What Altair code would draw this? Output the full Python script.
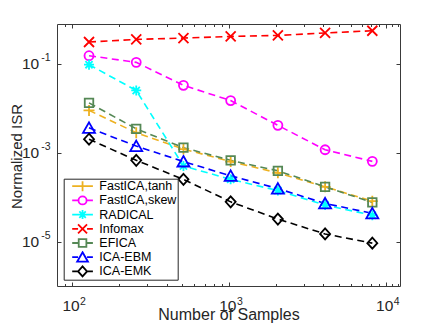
import altair as alt
import pandas as pd

# ---------------- data ----------------
samples = [128, 256, 512, 1024, 2048, 4096, 8192]
series_names = ["FastICA,tanh", "FastICA,skew", "RADICAL", "Infomax", "EFICA", "ICA-EBM", "ICA-EMK"]
fastica_tanh = [0.0089, 0.0028, 0.0012, 0.00063, 0.00035, 0.00017, 0.000081]
fastica_skew = [0.151, 0.107, 0.0326, 0.0148, 0.0041, 0.00116, 0.000635]
radical = [0.095, 0.025, 0.00050, 0.00025, 0.00014, 0.000066, 0.000039]
infomax = [0.307, 0.351, 0.377, 0.409, 0.432, 0.49, 0.55]
efica = [0.0131, 0.00343, 0.00129, 0.00067, 0.00039, 0.00017, 0.000076]
ica_ebm = [0.0036, 0.0014, 0.00063, 0.0003, 0.000155, 0.000072, 0.000043]
ica_emk = [0.002, 0.00067, 0.00025, 0.000078, 0.000032, 0.0000148, 0.0000092]

x_major = [100, 1000, 10000]
x_minor = [90, 200, 300, 400, 500, 600, 700, 800, 900,
           2000, 3000, 4000, 5000, 6000, 7000, 8000, 9000, 11000, 12000]
y_major = [1e-5, 1e-3, 1e-1]

colors = ["#EDB120", "#FF00FF", "#00FFFF", "#FF0000", "#558855", "#0000FF", "#000000"]

marker_paths = [
    "M-1.1,0L1.1,0M0,-1.1L0,1.1",
    "M0.9,0A0.9,0.9 0 1,1 -0.9,0A0.9,0.9 0 1,1 0.9,0Z",
    "M-1,0L1,0M0,-1L0,1M-0.72,-0.72L0.72,0.72M-0.72,0.72L0.72,-0.72",
    "M-1,-1L1,1M-1,1L1,-1",
    "M-0.85,-0.85L0.85,-0.85L0.85,0.85L-0.85,0.85Z",
    "M0,-1.1L1.2,1L-1.2,1Z",
    "M0,-1.1L1,0L0,1.1L-1,0Z",
]
seg = "M-2.3,0L-1,0M1,0L2.3,0"
legend_paths = [seg + p for p in marker_paths]

rows = []
for name, vals in zip(series_names, [fastica_tanh, fastica_skew, radical, infomax,
                                     efica, ica_ebm, ica_emk]):
    for n, v in zip(samples, vals):
        rows.append({"series": name, "samples": n, "isr": v})
df = pd.DataFrame(rows)

FONT = "Liberation Sans"
TXT = "#262626"
FRAME = "#3a3a3a"

x_scale = alt.Scale(type="log", domain=[80, 12300], nice=False)
y_scale = alt.Scale(type="log", domain=[1e-6, 0.78], nice=False)


def tick_axis(orient, values, size):
    return alt.Axis(orient=orient, values=values, labels=False, domain=False, ticks=True,
                    tickSize=size, offset=-size, tickColor=FRAME, tickWidth=1,
                    grid=False, title=None)


def frame_axis(orient):
    return alt.Axis(orient=orient, values=[], labels=False, ticks=False, tickSize=0,
                    domain=True, domainColor=FRAME, domainWidth=1, grid=False, title=None)


ax_x_main = alt.Axis(orient="bottom", values=x_major, labelExpr="'10'", ticks=False, tickSize=0,
                     domain=True, domainColor=FRAME, domainWidth=1, grid=False,
                     labelFont=FONT, labelFontSize=15.5, labelColor=TXT, labelPadding=12,
                     labelOffset=-1.7, labelAlign="center", labelBaseline="top",
                     labelFlush=False, labelOverlap=False,
                     title="Number of Samples", titleFont=FONT, titleFontSize=16,
                     titleFontWeight="normal", titleColor=TXT, titleBaseline="alphabetic",
                     titleY=33.5)
ax_x_exp = alt.Axis(orient="bottom", values=x_major,
                    labelExpr="'' + round(log(datum.value)/LN10)", ticks=False, tickSize=0,
                    domain=False, grid=False, labelFont=FONT, labelFontSize=10.5,
                    labelColor=TXT, labelPadding=10, labelOffset=10.3, labelAlign="center",
                    labelBaseline="top", labelFlush=False, labelOverlap=False, title=None)
ax_y_main = alt.Axis(orient="left", values=y_major, labelExpr="'10'", ticks=False, tickSize=0,
                     domain=True, domainColor=FRAME, domainWidth=1, grid=False,
                     labelFont=FONT, labelFontSize=15.5, labelColor=TXT, labelPadding=18.3,
                     labelAlign="right", labelBaseline="middle", labelFlush=False,
                     labelOverlap=False,
                     title="Normalized ISR", titleFont=FONT, titleFontSize=15,
                     titleFontWeight="normal", titleColor=TXT, titleBaseline="alphabetic",
                     titleX=-36, titleY=132, titleAngle=270, titleAlign="center")
ax_y_exp = alt.Axis(orient="left", values=y_major,
                    labelExpr="'-' + round(-log(datum.value)/LN10)", ticks=False, tickSize=0,
                    domain=False, grid=False, labelFont=FONT, labelFontSize=10.5,
                    labelColor=TXT, labelPadding=7, labelOffset=-6, labelAlign="right",
                    labelBaseline="middle", labelFlush=False, labelOverlap=False, title=None)

color_scale = alt.Scale(domain=series_names, range=colors)

base = alt.Chart(df)

lines = base.mark_line(strokeDash=[7, 4.5], strokeWidth=1.6).encode(
    x=alt.X("samples:Q", scale=x_scale, axis=ax_x_main),
    y=alt.Y("isr:Q", scale=y_scale, axis=ax_y_main),
    color=alt.Color("series:N", scale=color_scale, legend=None),
)

points = base.mark_point(filled=False, strokeWidth=1.8, size=100, opacity=1).encode(
    x=alt.X("samples:Q", scale=x_scale, axis=ax_x_exp),
    y=alt.Y("isr:Q", scale=y_scale, axis=ax_y_exp),
    color=alt.Color("series:N", scale=color_scale, legend=None),
    shape=alt.Shape("series:N", scale=alt.Scale(domain=series_names, range=marker_paths),
                    legend=None),
)

leg = alt.Legend(title=None, orient="none", legendX=6.7, legendY=154.7, padding=1,
                 fillColor="white", strokeColor=TXT, cornerRadius=0, symbolSize=81,
                 symbolStrokeWidth=1.8, symbolOffset=11.6, labelOffset=10.5,
                 labelFont=FONT, labelFontSize=12.5, labelColor="black", rowPadding=1.2,
                 clipHeight=13, labelBaseline="middle")

legend_layer = base.transform_filter("false").mark_point(
    filled=False, strokeWidth=1.8, opacity=1).encode(
    x=alt.X("samples:Q", scale=x_scale, axis=tick_axis("bottom", x_major, 4)),
    y=alt.Y("isr:Q", scale=y_scale, axis=tick_axis("left", y_major, 4)),
    color=alt.Color("series:N", scale=color_scale, legend=leg),
    shape=alt.Shape("series:N", scale=alt.Scale(domain=series_names, range=legend_paths),
                    legend=leg),
)

empty = base.transform_filter("false").mark_point(opacity=0)
axA = empty.encode(
    x=alt.X("samples:Q", scale=x_scale, axis=tick_axis("bottom", x_minor, 2.5)),
    y=alt.Y("isr:Q", scale=y_scale, axis=frame_axis("right")),
)
axB = empty.encode(
    x=alt.X("samples:Q", scale=x_scale, axis=frame_axis("top")),
    y=alt.Y("isr:Q", scale=y_scale, axis=tick_axis("right", y_major, 4)),
)
axC = empty.encode(
    x=alt.X("samples:Q", scale=x_scale, axis=tick_axis("top", x_major, 4)),
    y=alt.Y("isr:Q", scale=y_scale, axis=None),
)
axD = empty.encode(
    x=alt.X("samples:Q", scale=x_scale, axis=tick_axis("top", x_minor, 2.5)),
    y=alt.Y("isr:Q", scale=y_scale, axis=None),
)

chart = alt.layer(lines, points, legend_layer, axA, axB, axC, axD).resolve_scale(
    color="independent", shape="independent"
).resolve_axis(
    x="independent", y="independent"
).resolve_legend(
    color="independent", shape="independent"
).properties(
    width=343, height=262,
    autosize=alt.AutoSizeParams(type="none"),
    padding={"left": 49, "top": 16, "right": 20, "bottom": 38},
    background="white",
).configure_view(strokeOpacity=0)

chart.save("out.html", embed_options={"renderer": "svg", "actions": False})
